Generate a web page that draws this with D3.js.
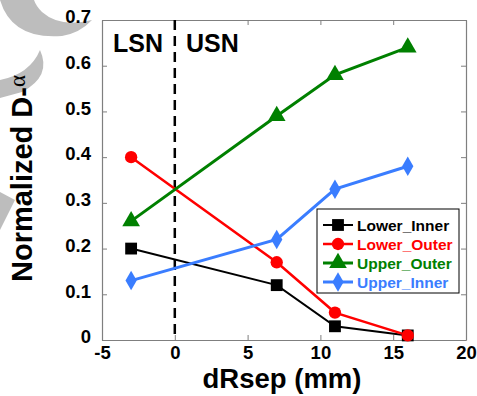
<!DOCTYPE html>
<html><head><meta charset="utf-8">
<script src="https://cdn.jsdelivr.net/npm/d3@7"></script>
<style>body{margin:0;background:#fff}svg{display:block}</style>
</head><body><svg id="c" width="477" height="396"></svg>
<script>
const xValues = [-3, 7, 11, 16];
const seriesNames = ["Lower_Inner", "Lower_Outer", "Upper_Outer", "Upper_Inner"];
const lowerInner = [0.20, 0.12, 0.03, 0.01];
const lowerOuter = [0.40, 0.17, 0.06, 0.01];
const upperOuter = [0.26, 0.49, 0.58, 0.64];
const upperInner = [0.13, 0.22, 0.33, 0.38];
const xTicks = [-5, 0, 5, 10, 15, 20];
const xTickLabels = ["-5", "0", "5", "10", "15", "20"];
const yTicks = [0, 0.1, 0.2, 0.3, 0.4, 0.5, 0.6, 0.7];
const yTickLabels = ["0", "0.1", "0.2", "0.3", "0.4", "0.5", "0.6", "0.7"];
const regionLabels = ["LSN", "USN"];

const colors = ["#000000", "#ff0000", "#008000", "#3a7dff"];
const symbols = [d3.symbolSquare, d3.symbolCircle, d3.symbolTriangle, d3.symbolDiamond];
const symSizes = [140, 120, 135, 110];
const widths = [2, 2.5, 3, 3];
const allSeries = [lowerInner, lowerOuter, upperOuter, upperInner];

const svg = d3.select("#c");
const L = 102, R = 466, T = 20, B = 340;
const x = d3.scaleLinear().domain([-5, 20]).range([L, R]);
const y = d3.scaleLinear().domain([0, 0.7]).range([B, T]);

// watermark shapes
const wm = svg.append("g").attr("fill", "#bdbdbd");
wm.append("path").attr("d", "M0,0 Q12,40 62,36 Q80,33 92,20 Q60,28 42,12 Q36,6 34,0 Z");
wm.append("path").attr("d", "M40,50 Q52,76 22,92 L0,98 L0,80 Q30,74 40,50 Z");
wm.append("path").attr("d", "M0,192 L15,200 L0,230 Z");

const axColor = "#7f7f7f";
const fontF = "'Liberation Sans', Arial, Helvetica, sans-serif";

// axes
const gB = svg.append("g").attr("transform", `translate(0,${B})`)
  .call(d3.axisBottom(x).tickValues(xTicks).tickSize(-5).tickSizeOuter(0).tickPadding(6)
    .tickFormat((d, i) => xTickLabels[i]));
const gT = svg.append("g").attr("transform", `translate(0,${T})`)
  .call(d3.axisTop(x).tickValues(xTicks).tickSize(-5).tickSizeOuter(0).tickFormat(""));
const gL = svg.append("g").attr("transform", `translate(${L},0)`)
  .call(d3.axisLeft(y).tickValues(yTicks).tickSize(-5).tickSizeOuter(0).tickPadding(11)
    .tickFormat((d, i) => yTickLabels[i]));
const gR = svg.append("g").attr("transform", `translate(${R},0)`)
  .call(d3.axisRight(y).tickValues(yTicks).tickSize(-5).tickSizeOuter(0).tickFormat(""));
[gB, gT, gL, gR].forEach(g => {
  g.selectAll("path.domain").attr("stroke", axColor).attr("stroke-width", 1.2);
  g.selectAll(".tick line").attr("stroke", axColor).attr("stroke-width", 1);
  g.selectAll("text").attr("fill", "#000").style("font-family", fontF)
    .style("font-weight", "bold").style("font-size", "18.5px");
});
gL.selectAll("text").attr("dy", "0.15em");

// dashed separator at x=0
svg.append("line").attr("x1", x(0)).attr("x2", x(0)).attr("y1", T).attr("y2", B)
  .attr("stroke", "#000").attr("stroke-width", 2.5).attr("stroke-dasharray", "10,6");

// region labels
svg.append("text").attr("x", 113).attr("y", 52).text(regionLabels[0])
  .style("font-family", fontF).style("font-weight", "bold").style("font-size", "25px");
svg.append("text").attr("x", 186).attr("y", 52).text(regionLabels[1])
  .style("font-family", fontF).style("font-weight", "bold").style("font-size", "25px");

// series
const line = d3.line().x((d, i) => x(xValues[i])).y(d => y(d));
allSeries.forEach((s, k) => {
  svg.append("path").datum(s).attr("d", line).attr("fill", "none")
    .attr("stroke", colors[k]).attr("stroke-width", widths[k]);
});
allSeries.forEach((s, k) => {
  svg.append("g").selectAll("path").data(s).join("path")
    .attr("transform", (d, i) => `translate(${x(xValues[i])},${y(d)})`)
    .attr("d", d3.symbol().type(symbols[k]).size(symSizes[k]))
    .attr("fill", colors[k]);
});

// legend
const lg = svg.append("g");
lg.append("rect").attr("x", 317).attr("y", 209).attr("width", 142).attr("height", 84)
  .attr("fill", "#fff").attr("stroke", "#000").attr("stroke-width", 1);
seriesNames.forEach((n, k) => {
  const yy = 225 + k * 19;
  lg.append("line").attr("x1", 323).attr("x2", 353).attr("y1", yy).attr("y2", yy)
    .attr("stroke", colors[k]).attr("stroke-width", widths[k]);
  lg.append("path").attr("transform", `translate(338,${yy})`)
    .attr("d", d3.symbol().type(symbols[k]).size(symSizes[k])).attr("fill", colors[k]);
  lg.append("text").attr("x", 357).attr("y", yy + 5.5).text(n).attr("fill", colors[k])
    .style("font-family", fontF).style("font-weight", "bold").style("font-size", "15.5px");
});

// axis titles
svg.append("text").attr("x", 282).attr("y", 388).attr("text-anchor", "middle")
  .text("dRsep (mm)").style("font-family", fontF).style("font-weight", "bold").style("font-size", "27.5px");
const yl = svg.append("text").attr("transform", "translate(32,282) rotate(-90)")
  .style("font-family", fontF).style("font-weight", "bold").style("font-size", "29px");
yl.append("tspan").text("Normalized D-");
yl.append("tspan").attr("dy", -7).text("α")
  .style("font-family", "'Liberation Serif', 'DejaVu Serif', serif").style("font-weight", "normal").style("font-size", "23px");
</script></body></html>
